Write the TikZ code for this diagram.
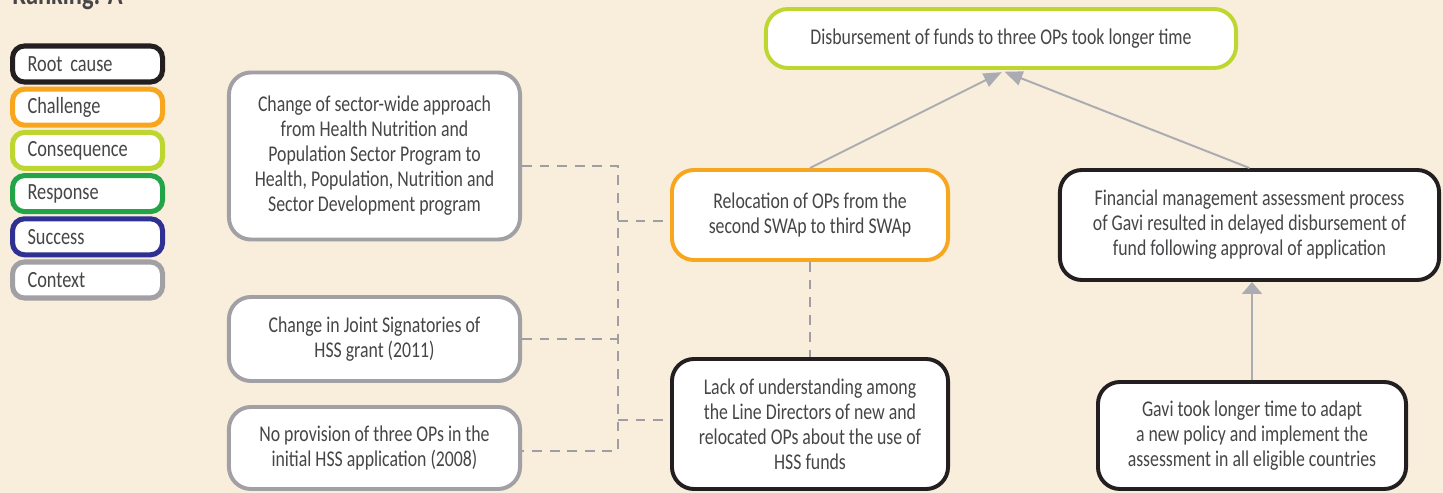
\documentclass[tikz,border=0pt]{standalone}
\usepackage{fontspec}
\setmainfont{Carlito}[FakeStretch=0.79]
\usetikzlibrary{positioning, arrows.meta}
\definecolor{PageBg}{RGB}{249, 237, 220}
\definecolor{TextGray}{RGB}{70, 69, 71}
\definecolor{RootBlack}{RGB}{35, 31, 32}
\definecolor{ChalOrange}{RGB}{247, 166, 30}
\definecolor{ConsLime}{RGB}{190, 214, 48}
\definecolor{RespGreen}{RGB}{36, 164, 72}
\definecolor{SuccBlue}{RGB}{46, 49, 146}
\definecolor{CtxGray}{RGB}{160, 160, 165}
\definecolor{LinkGray}{RGB}{158, 158, 163}
\definecolor{ArrowGray}{RGB}{170, 172, 178}

\begin{document}
\begin{tikzpicture}[x=0.025cm, y=-0.025cm]
        \tikzstyle{box} = [rectangle, draw, fill=white, rounded corners=0.55cm,
          line width=2.8pt, align=center, text=TextGray, inner sep=2pt,
          font=\fontsize{16}{17.8}\selectfont]
        \tikzstyle{legend} = [rectangle, draw, fill=white, rounded corners=0.3cm,
          line width=3.6pt, text width=3cm, align=left, inner xsep=0.375cm,
          minimum height=0.9cm, text=TextGray, font=\fontsize{16.5}{18}\selectfont]
        \tikzstyle{link} = [draw=LinkGray, line width=2.1pt, dash pattern=on 7pt off 5.5pt]
        \tikzstyle{arr} = [draw=ArrowGray, line width=1.4pt,
          -{Triangle[length=0.45cm, width=0.36cm]}]
        \tikzstyle{arrup} = [draw=ArrowGray, line width=1.4pt,
          -{Triangle[length=0.3cm, width=0.5cm]}]

        % page
        \fill[PageBg] (0,0) rectangle (1443,493);
        \useasboundingbox (0,0) rectangle (1443,493);
        \node[anchor=base west, inner sep=0pt, text=TextGray,
          font=\bfseries\fontsize{22}{26}\selectfont] (rank) at (12,5) {Ranking: A};

        % legend
        \foreach \name/\col [count=\i] in {Root cause/RootBlack, Challenge/ChalOrange,
            Consequence/ConsLime, Response/RespGreen, Success/SuccBlue, Context/CtxGray}
          \node[legend, draw=\col, anchor=west] (leg\i) at (10, {64+43.2*(\i-1)}) {\name};

        % context
        \node[box, draw=CtxGray, minimum width=7.275cm, minimum height=4.175cm] (ctxA) at (374.5,156)
          {Change of sector-wide approach\\from Health Nutrition and\\Population Sector Program to\\Health, Population, Nutrition and\\Sector Development program};
        \node[box, draw=CtxGray, minimum width=7.275cm, minimum height=2.1cm] (ctxB) at (374.5,339)
          {Change in Joint Signatories of\\HSS grant (2011)};
        \node[box, draw=CtxGray, minimum width=7.275cm, minimum height=2.05cm] (ctxC) at (374.5,448)
          {No provision of three OPs in the\\initial HSS application (2008)};

        % challenge, root causes, consequence
        \node[box, draw=ChalOrange, minimum width=6.9cm, minimum height=2.25cm] (chal) at (810,215)
          {Relocation of OPs from the\\second SWAp to third SWAp};
        \node[box, draw=RootBlack, minimum width=6.9cm, minimum height=3.25cm] (lack) at (810,424)
          {Lack of understanding among\\the Line Directors of new and\\relocated OPs about the use of\\HSS funds};
        \node[box, draw=ConsLime, minimum width=11.75cm, minimum height=1.475cm] (cons) at (1001,38.5)
          {Disbursement of funds to three OPs took longer time};
        \node[box, draw=RootBlack, minimum width=9.475cm, minimum height=2.75cm] (fin) at (1249.5,225)
          {Financial management assessment process\\of Gavi resulted in delayed disbursement of\\fund following approval of application};
        \node[box, draw=RootBlack, minimum width=7.7cm, minimum height=2.675cm] (gavi) at (1252,435.5)
          {Gavi took longer time to adapt\\a new policy and implement the\\assessment in all eligible countries};

        % dashed links
        \coordinate (busA) at (618,166);
        \coordinate (busC) at (618,451);
        \coordinate (joinA) at (618,221);
        \coordinate (joinB) at (618,420);
        \draw[link] (ctxA.east |- busA) -- (busA) -- (busC) -- (ctxC.east |- busC);
        \draw[link] (ctxB.east) -- (ctxB.east -| busA);
        \draw[link] (joinA) -- (joinA -| chal.west);
        \draw[link] (joinB) -- (joinB -| lack.west);
        \draw[link] (chal.south) -- (lack.north);

        % arrows
        \draw[arr, shorten >=0.12cm] (chal.north) -- ([xshift=0.125cm]cons.south);
        \draw[arr, shorten >=0.12cm] (fin.north) -- ([xshift=-0.025cm]cons.south);
        \draw[arrup] (gavi.north) -- (gavi.north |- fin.south);
      \end{tikzpicture}
\end{document}
